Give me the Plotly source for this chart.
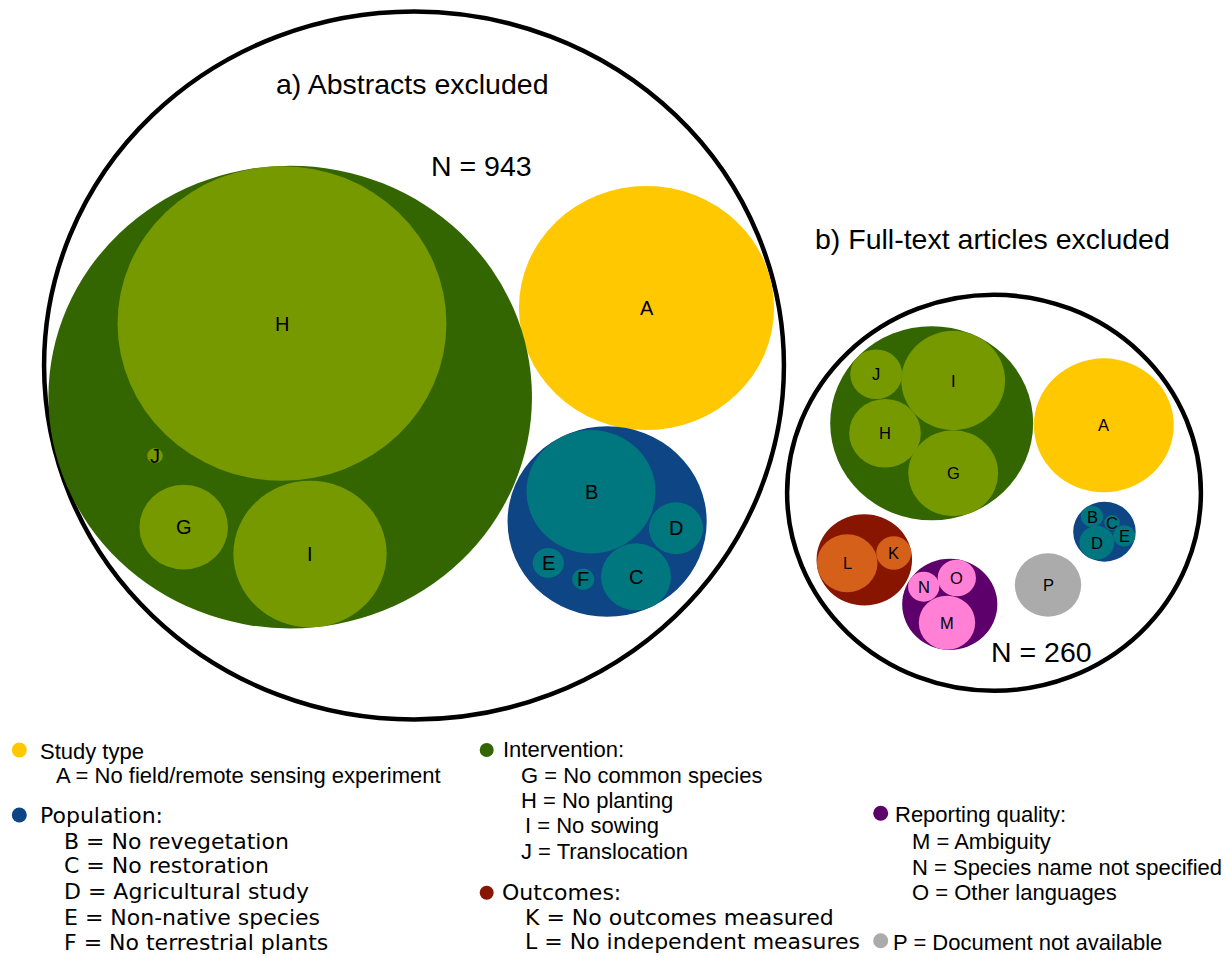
import numpy as np
import plotly.graph_objects as go

# ------------------------------------------------------------------ data
# exclusion reasons (letter codes) and their descriptions
codes = ["A", "B", "C", "D", "E", "F", "G", "H", "I", "J", "K", "L", "M", "N", "O", "P"]
code_text = [
    "No field/remote sensing experiment",
    "No revegetation", "No restoration", "Agricultural study",
    "Non-native species", "No terrestrial plants",
    "No common species", "No planting", "No sowing", "Translocation",
    "No outcomes measured", "No independent measures",
    "Ambiguity", "Species name not specified", "Other languages",
    "Document not available",
]
code_group = ["study", "pop", "pop", "pop", "pop", "pop",
              "interv", "interv", "interv", "interv",
              "outc", "outc", "report", "report", "report", "avail"]

group_keys = ["study", "pop", "interv", "outc", "report", "avail"]
group_titles = ["Study type", "Population:", "Intervention:", "Outcomes:",
                "Reporting quality:", ""]

# panel a) abstracts excluded (N = 943)
abs_codes = ["A", "B", "C", "D", "E", "F", "G", "H", "I", "J"]
abs_counts = [266, 68, 20, 12, 4, 2, 32, 442, 96, 1]
abs_total = 943

# panel b) full-text articles excluded (N = 260)
ft_codes = ["A", "B", "C", "D", "E", "G", "H", "I", "J", "K", "L", "M", "N", "O", "P"]
ft_counts = [80, 2, 1, 5, 2, 33, 21, 44, 11, 5, 15, 13, 4, 6, 18]
ft_total = 260

# ------------------------------------------------------------------ styles / layout
W, H = 1225, 956
S = 1.045              # the drawing is stretched horizontally
AREA = 0.01785         # records per squared pixel of circle area

group_fill = {"study": "#FFC800", "pop": "#0E4584", "interv": "#336600",
              "outc": "#881500", "report": "#5E006B", "avail": "#ABABAB"}
leaf_fill = {"study": "#FFC800", "pop": "#00767F", "interv": "#779900",
             "outc": "#D5601A", "report": "#FF80D5", "avail": "#ABABAB"}

ARIAL = "Liberation Sans, Arial, sans-serif"
VERD = "DejaVu Sans, Verdana, sans-serif"

# packing layout: leaf centres (reference pixels)
abs_pos = {"A": (646.5, 308), "H": (282, 323.5), "I": (310, 554), "G": (183.7, 527.2),
           "J": (155, 455.8), "B": (591, 491.7), "C": (636, 576.8), "D": (676, 528.3),
           "E": (548.3, 563), "F": (583.2, 579.2)}
ft_pos = {"A": (1103.8, 425.3), "J": (876.2, 374.2), "I": (953.2, 380.5), "H": (885, 433.2),
          "G": (953.2, 473.3), "B": (1092, 516.5), "C": (1112, 522.5), "D": (1096.8, 542.7),
          "E": (1124.2, 535.8), "L": (847.2, 563.2), "K": (893.7, 553), "M": (947, 622.7),
          "N": (923.7, 586.7), "O": (956.8, 578), "P": (1048, 585)}
# hand-drawn frame circles: centre and radius (reference pixels)
frames = [dict(c=(414, 365.5), r=354), dict(c=(994, 492.8), r=198)]


def X(px):
    return px / S


def enclose(centers, radii):
    centers = np.asarray(centers, float)
    radii = np.asarray(radii, float)
    if len(radii) == 1:
        return centers[0], radii[0]
    f = lambda c: np.max(np.hypot(*(centers - c).T) + radii)
    c = centers.mean(axis=0)
    step = radii.max()
    dirs = [np.array([np.cos(a), np.sin(a)]) for a in np.linspace(0, 2 * np.pi, 90, endpoint=False)]
    fc = f(c)
    while step > 1e-3:
        moved = False
        for d in dirs:
            cand = c + step * d
            fv = f(cand)
            if fv < fc:
                c, fc, moved = cand, fv, True
                break
        if not moved:
            step /= 2
    return c, fc


shapes, annotations = [], []


def add_circle(c, r, fill=None, line=None):
    shapes.append(dict(type="circle", xref="x", yref="y", layer="above",
                       x0=c[0] - r, x1=c[0] + r, y0=c[1] - r, y1=c[1] + r,
                       fillcolor=fill if fill else "rgba(0,0,0,0)",
                       line=line if line else dict(width=0)))


def add_text(x, y, text, size, family=ARIAL, xanchor="center"):
    annotations.append(dict(x=x, y=y, xref="x", yref="y", text=text, showarrow=False,
                            xanchor=xanchor, yanchor="middle",
                            font=dict(size=size, family=family, color="black")))


# frames
for fr in frames:
    add_circle((X(fr["c"][0]), fr["c"][1]), fr["r"], line=dict(color="black", width=4.5))


def draw_panel(pcodes, pcounts, pos, label_size):
    leaves = {}
    for code, n in zip(pcodes, pcounts):
        px, py = pos[code]
        leaves[code] = (np.array([X(px), py]), np.sqrt(n / AREA))
    for g in group_keys:
        members = [c for c in pcodes if code_group[codes.index(c)] == g]
        if not members:
            continue
        if len(members) > 1:
            gc, gr = enclose([leaves[m][0] for m in members], [leaves[m][1] for m in members])
            add_circle(gc, gr, group_fill[g])
        for m in members:
            add_circle(leaves[m][0], leaves[m][1], leaf_fill[g])
    for code in pcodes:
        c, r = leaves[code]
        add_text(c[0], c[1], code, label_size)


draw_panel(abs_codes, abs_counts, abs_pos, 20)
draw_panel(ft_codes, ft_counts, ft_pos, 16.5)

# panel titles and totals
TITLE_SIZE = 28.5
add_text(X(411.7), 84, "a) Abstracts excluded", TITLE_SIZE)
add_text(X(481.7), 166, f"N = {abs_total}", TITLE_SIZE)
add_text(X(992.5), 238.5, "b) Full-text articles excluded", TITLE_SIZE)
add_text(X(1041.7), 652, f"N = {ft_total}", TITLE_SIZE)

# ------------------------------------------------------------------ key
key_dots = {"study": (19.3, 750, 15), "pop": (19.3, 815, 15), "interv": (486.7, 750, 14),
            "outc": (486.7, 892.7, 14), "report": (880.7, 813.3, 15), "avail": (880.7, 940.7, 15)}
key_headers = {"study": (40, 751.7, ARIAL), "pop": (40, 815.5, VERD),
               "interv": (503.3, 749.5, ARIAL), "outc": (502.3, 892.2, VERD),
               "report": (895, 814.5, ARIAL)}
key_rows = {
    "A": (56.7, 775.5, ARIAL, "A = "),
    "B": (64, 841.2, VERD, "B = "), "C": (64, 865.8, VERD, "C = "),
    "D": (64, 891.5, VERD, "D = "), "E": (64, 917.2, VERD, "E = "),
    "F": (64, 942.2, VERD, "F = "),
    "G": (521.7, 775.8, ARIAL, "G = "), "H": (521.7, 800.8, ARIAL, "H = "),
    "I": (525, 825.8, ARIAL, "I = "), "J": (521.7, 851.8, ARIAL, "J = "),
    "K": (525.7, 917.5, VERD, "K = "), "L": (525.7, 941.7, VERD, "L = "),
    "M": (912.3, 841.2, ARIAL, "M = "), "N": (912.3, 867, ARIAL, "N = "),
    "O": (912.3, 892.2, ARIAL, "O = "), "P": (893.3, 942.2, ARIAL, "P = "),
}
KEY_SIZE = 22
TXT_PAD = 2.5

dot_x, dot_y, dot_s, dot_c = [], [], [], []
for g, title in zip(group_keys, group_titles):
    dx, dy, ds = key_dots[g]
    dot_x.append(X(dx)); dot_y.append(dy); dot_s.append(ds); dot_c.append(group_fill[g])
    if title:
        hx, hy, fam = key_headers[g]
        add_text(X(hx - TXT_PAD), hy, title, KEY_SIZE, fam, "left")

for code, desc in zip(codes, code_text):
    rx, ry, fam, prefix = key_rows[code]
    add_text(X(rx - TXT_PAD), ry, prefix + desc, KEY_SIZE, fam, "left")

fig = go.Figure()
fig.add_trace(go.Scatter(x=dot_x, y=dot_y, mode="markers", hoverinfo="skip",
                         marker=dict(size=dot_s, color=dot_c, opacity=1, line=dict(width=0))))

fig.update_layout(
    width=W, height=H, margin=dict(l=0, r=0, t=0, b=0),
    paper_bgcolor="white", plot_bgcolor="white", showlegend=False,
    xaxis=dict(range=[0, W / S], visible=False, fixedrange=True),
    yaxis=dict(range=[H, 0], visible=False, fixedrange=True),
    shapes=shapes, annotations=annotations,
)

fig.write_html("out.html", config={"displayModeBar": False},
               post_script="document.body.style.margin='0';document.body.style.overflow='hidden';")
